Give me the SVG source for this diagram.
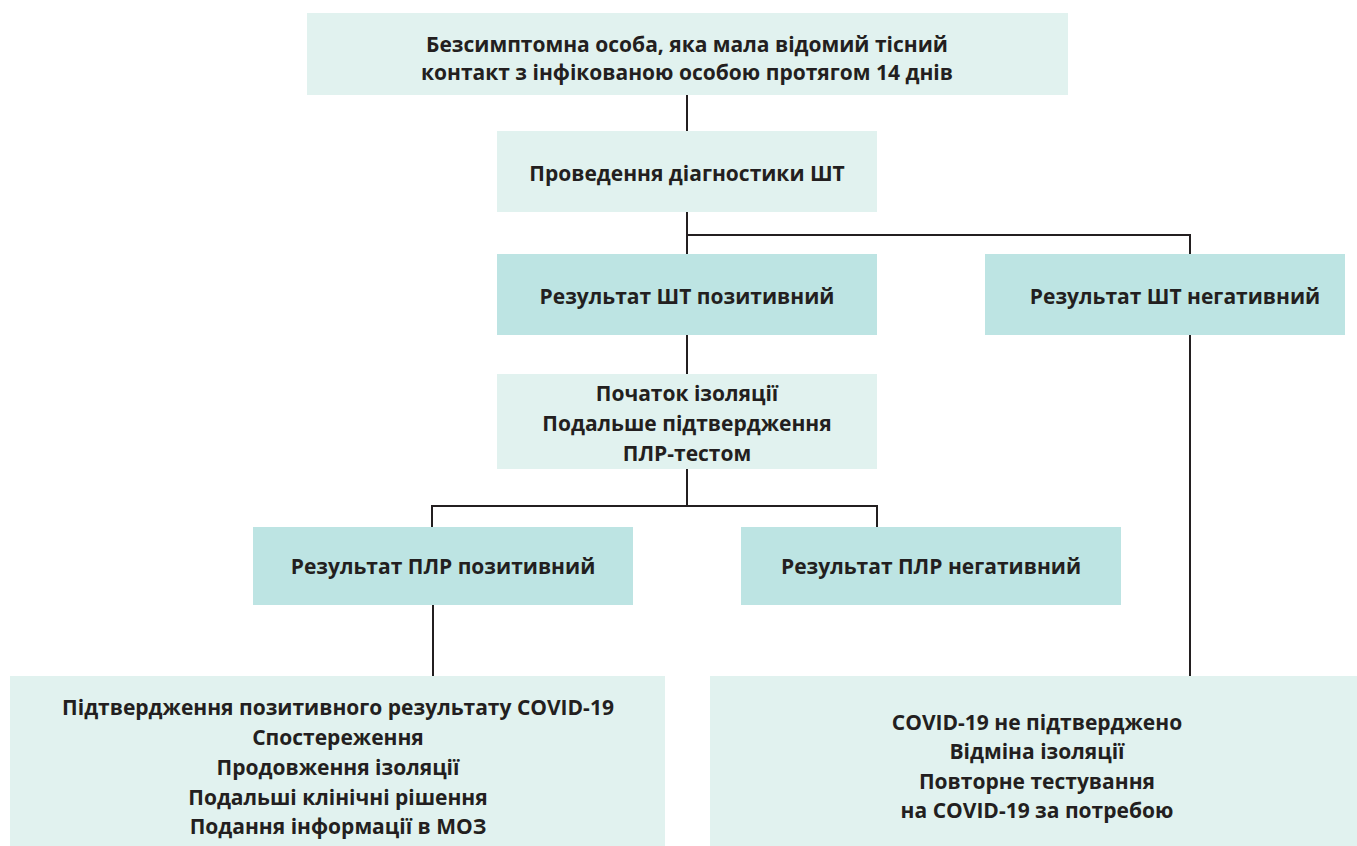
<svg xmlns="http://www.w3.org/2000/svg" width="1357" height="846" viewBox="0 0 1357 846">
<style>
.l{fill:#e1f2ef}
.d{fill:#bde4e3}
text{font-family:"Open Sans","Liberation Sans",sans-serif;font-weight:bold;font-size:21px;fill:#231f20;text-anchor:middle}
.c{stroke:#231f20;stroke-width:2;fill:none}
</style>
<rect width="1357" height="846" fill="#fff"/>
<g id="connectors">
<path class="c" d="M687 95V131"/>
<path class="c" d="M687 212V254M686 235H1190V254"/>
<path class="c" d="M687 335V374"/>
<path class="c" d="M687 469V506M432 527V506H877V527"/>
<path class="c" d="M433 605V676"/>
<path class="c" d="M1190 335V676"/>
</g>
<g id="n1"><rect class="l" x="307" y="13" width="761" height="82"/>
<text x="687" y="52">Безсимптомна особа, яка мала відомий тісний</text>
<text x="687" y="80">контакт з інфікованою особою протягом 14 днів</text></g>
<g id="n2"><rect class="l" x="497" y="131" width="380" height="81"/>
<text x="687" y="181">Проведення діагностики ШТ</text></g>
<g id="n3"><rect class="d" x="497" y="254" width="380" height="81"/>
<text x="687" y="304">Результат ШТ позитивний</text></g>
<g id="n4"><rect class="d" x="985" y="254" width="360" height="81"/>
<text x="1175" y="304">Результат ШТ негативний</text></g>
<g id="n5"><rect class="l" x="497" y="374" width="380" height="95"/>
<text x="687" y="401">Початок ізоляції</text>
<text x="687" y="431">Подальше підтвердження</text>
<text x="687" y="461">ПЛР-тестом</text></g>
<g id="n6"><rect class="d" x="253" y="527" width="380" height="78"/>
<text x="443" y="574">Результат ПЛР позитивний</text></g>
<g id="n7"><rect class="d" x="741" y="527" width="380" height="78"/>
<text x="931" y="574">Результат ПЛР негативний</text></g>
<g id="n8"><rect class="l" x="10" y="676" width="655" height="170"/>
<text x="338" y="715">Підтвердження позитивного результату COVID-19</text>
<text x="338" y="745">Спостереження</text>
<text x="338" y="775">Продовження ізоляції</text>
<text x="338" y="805">Подальші клінічні рішення</text>
<text x="338" y="834">Подання інформації в МОЗ</text></g>
<g id="n9"><rect class="l" x="710" y="676" width="647" height="170"/>
<text x="1037" y="730">COVID-19 не підтверджено</text>
<text x="1037" y="759">Відміна ізоляції</text>
<text x="1037" y="789">Повторне тестування</text>
<text x="1037" y="818">на COVID-19 за потребою</text></g>
</svg>
